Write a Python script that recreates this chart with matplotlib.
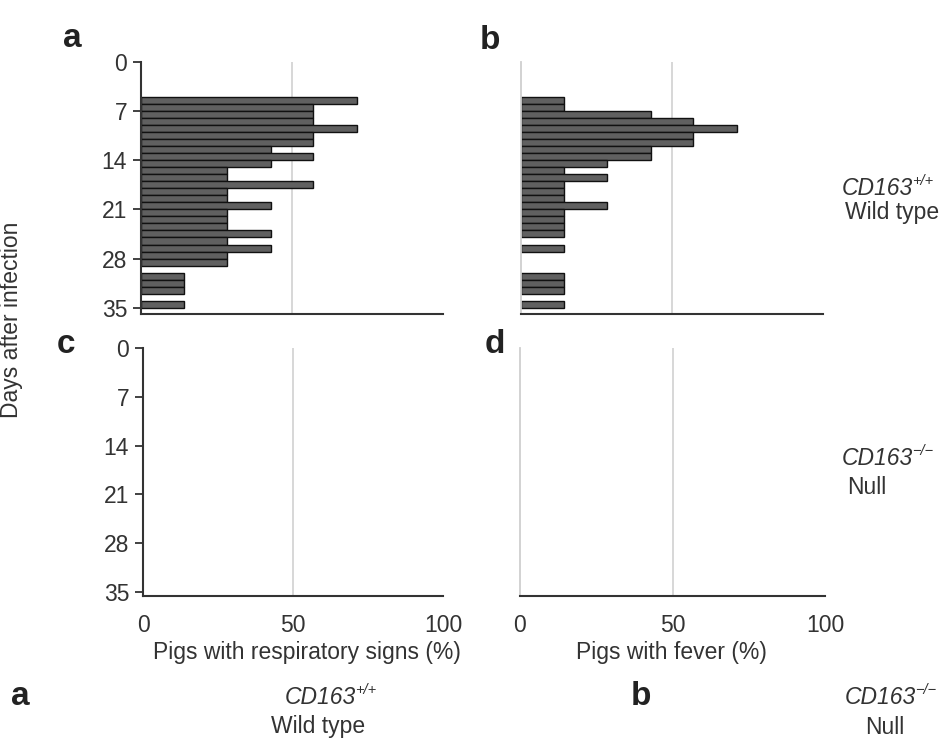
import numpy as np
import matplotlib
matplotlib.use("Agg")
import matplotlib.pyplot as plt

# ---------------- data ----------------
days = list(range(6, 36))  # day index of each bar (bar spans day-1 .. day)
resp_wild = [71.4, 57.1, 57.1, 57.1, 71.4, 57.1, 57.1, 42.9, 57.1, 42.9,
             28.6, 28.6, 57.1, 28.6, 28.6, 42.9, 28.6, 28.6, 28.6, 42.9,
             28.6, 42.9, 28.6, 28.6, 0.0, 14.3, 14.3, 14.3, 0.0, 14.3]
fever_wild = [14.3, 14.3, 42.9, 57.1, 71.4, 57.1, 57.1, 42.9, 42.9, 28.6,
              14.3, 28.6, 14.3, 14.3, 14.3, 28.6, 14.3, 14.3, 14.3, 14.3,
              0.0, 14.3, 0.0, 0.0, 0.0, 14.3, 14.3, 14.3, 0.0, 14.3]
resp_null = [0.0] * 30
fever_null = [0.0] * 30
y_ticks = [0, 7, 14, 21, 28, 35]
x_ticks = [0, 50, 100]

FONT = "Liberation Sans"
plt.rcParams["font.family"] = [FONT, "DejaVu Sans"]
TXT = "#333333"
FS = 16.5

W, H = 950, 740
fig = plt.figure(figsize=(W / 100, H / 100), dpi=100)


def axes_px(left, right, top, bottom):
    return fig.add_axes([left / W, 1 - bottom / H, (right - left) / W, (bottom - top) / H])


def style(ax, ymax, dark_left, xlabels):
    ax.set_xlim(0, 100)
    ax.set_ylim(ymax, 0)
    for s in ("top", "right"):
        ax.spines[s].set_visible(False)
    ax.spines["bottom"].set_color("#333333")
    ax.spines["bottom"].set_linewidth(1.5)
    ax.axvline(50, color="#d4d4d4", lw=1.3, zorder=0)
    if dark_left:
        ax.spines["left"].set_color("#333333")
        ax.spines["left"].set_linewidth(1.5)
        ax.set_yticks(y_ticks)
        ax.tick_params(axis="y", direction="out", length=6, width=1.3,
                       color="#333333", labelsize=FS, labelcolor=TXT, pad=4)
    else:
        ax.spines["left"].set_color("#cfcfcf")
        ax.spines["left"].set_linewidth(1.3)
        ax.set_yticks([])
    if xlabels:
        ax.set_xticks(x_ticks)
        ax.tick_params(axis="x", length=0, labelsize=FS, labelcolor=TXT, pad=13)
    else:
        ax.set_xticks([])


def draw_bars(ax, vals):
    d = np.array(days, dtype=float)
    v = np.array(vals, dtype=float)
    m = v > 0
    ax.barh(d[m] - 0.5, v[m], height=1.0, color="#606060",
            edgecolor="#111111", linewidth=1.0, zorder=2)


ax_a = axes_px(141, 443, 62, 314)
ax_b = axes_px(521, 823, 62, 314)
ax_c = axes_px(143, 443, 348, 596)
ax_d = axes_px(520, 825, 348, 596)

draw_bars(ax_a, resp_wild)
draw_bars(ax_b, fever_wild)
draw_bars(ax_c, resp_null)
draw_bars(ax_d, fever_null)

style(ax_a, 35.9, True, False)
style(ax_b, 35.9, False, False)
style(ax_c, 35.6, True, True)
style(ax_d, 35.6, False, True)


def ftext(x, y, s, **kw):
    kw.setdefault("color", TXT)
    return fig.text(x / W, 1 - y / H, s, **kw)


# panel letters
for (x, y, s) in [(72, 47, "a"), (490, 49, "b"), (66, 353, "c"), (495, 353, "d"),
                  (20, 705, "a"), (641, 705, "b")]:
    ftext(x, y, s, fontsize=24, fontweight="bold", ha="center", va="baseline",
          color="#222222")

# axis labels
ftext(12, 320, "Days after infection", fontsize=FS, rotation=90,
      ha="center", va="center")
ftext(307, 659, "Pigs with respiratory signs (%)", fontsize=FS,
      ha="center", va="baseline")
ftext(671, 659, "Pigs with fever (%)", fontsize=FS, ha="center", va="baseline")


def genotype(x, y, sup):
    t = ftext(x, y, "CD163", fontsize=FS, style="italic", ha="left", va="baseline")
    fig.canvas.draw()
    bb = t.get_window_extent()
    # superscript: starts at right edge of "CD163", raised near cap height
    fig.text((bb.x1 - 1) / W, (H - y + 10) / H, sup, fontsize=10.5,
             style="italic", color=TXT, ha="left", va="baseline")
    return t


genotype(842, 195, "+/+")
ftext(845, 219, "Wild type", fontsize=FS, ha="left", va="baseline")
genotype(842, 465, "\u2212/\u2212")
ftext(847, 494, "Null", fontsize=FS, ha="left", va="baseline")

genotype(285, 704, "+/+")
ftext(318, 733, "Wild type", fontsize=FS, ha="center", va="baseline")
genotype(845, 704, "\u2212/\u2212")
ftext(885, 734, "Null", fontsize=FS, ha="center", va="baseline")

fig.savefig("out.png", dpi=100)
